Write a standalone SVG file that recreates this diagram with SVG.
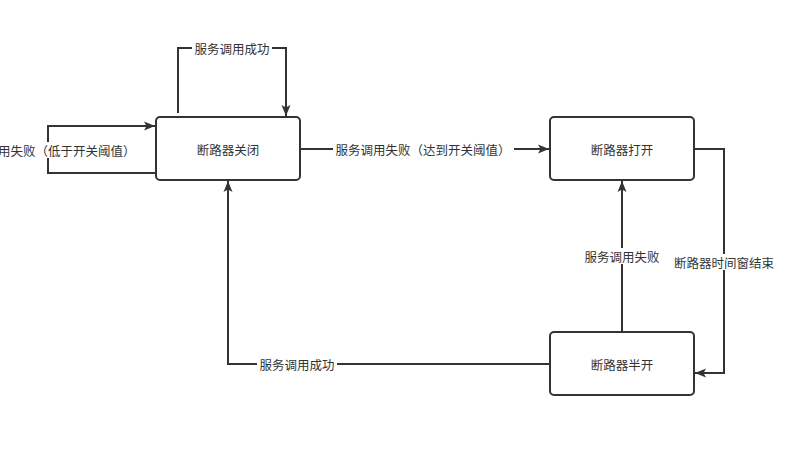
<svg xmlns="http://www.w3.org/2000/svg" width="786" height="457" viewBox="0 0 786 457">
<defs>
<marker id="arr" viewBox="0 0 11 10" refX="11" refY="5" markerWidth="11" markerHeight="10" markerUnits="userSpaceOnUse" orient="auto">
<path d="M0,0.5 L11,5 L0,9.5 L2.5,5 Z" fill="#333"/>
</marker>
</defs>
<style>
.node rect{fill:#fff;stroke:#333;stroke-width:2}
text{font-family:"Noto Sans CJK SC","Liberation Sans",sans-serif;font-size:12.5px;fill:#333;text-anchor:middle;dominant-baseline:central}
.edge{fill:none;stroke:#333;stroke-width:2}
.lbg{fill:#fff}
</style>
<rect width="786" height="457" fill="#fff"/>
<g id="connectors">
<path class="edge" d="M178,113 V48 H286 V116" marker-end="url(#arr)"/>
<path class="edge" d="M156,173 H48 V126 H155" marker-end="url(#arr)"/>
<path class="edge" d="M300,149 H549" marker-end="url(#arr)"/>
<path class="edge" d="M694,149 H724 V373 H695" marker-end="url(#arr)"/>
<path class="edge" d="M622,332 V181" marker-end="url(#arr)"/>
<path class="edge" d="M550,364 H228 V181" marker-end="url(#arr)"/>
<rect class="lbg" x="192" y="40" width="80" height="16"/>
<text x="232" y="48">服务调用成功</text>
<rect class="lbg" x="-42" y="142" width="180" height="16"/>
<text x="48" y="150">服务调用失败（低于开关阈值）</text>
<rect class="lbg" x="333" y="141" width="181" height="16"/>
<text x="423" y="149">服务调用失败（达到开关阈值）</text>
<rect class="lbg" x="670" y="254" width="108" height="16"/>
<text x="724" y="262">断路器时间窗结束</text>
<rect class="lbg" x="582" y="248" width="80" height="16"/>
<text x="622" y="256">服务调用失败</text>
<rect class="lbg" x="257" y="356" width="80" height="16"/>
<text x="297" y="364">服务调用成功</text>
</g>
<g id="node-closed" class="node">
<rect x="156" y="117" width="144" height="63" rx="4"/>
<text x="228" y="149">断路器关闭</text>
</g>
<g id="node-open" class="node">
<rect x="550" y="117" width="144" height="63" rx="4"/>
<text x="622" y="149">断路器打开</text>
</g>
<g id="node-halfopen" class="node">
<rect x="550" y="332" width="144" height="63" rx="4"/>
<text x="622" y="364">断路器半开</text>
</g>
</svg>
